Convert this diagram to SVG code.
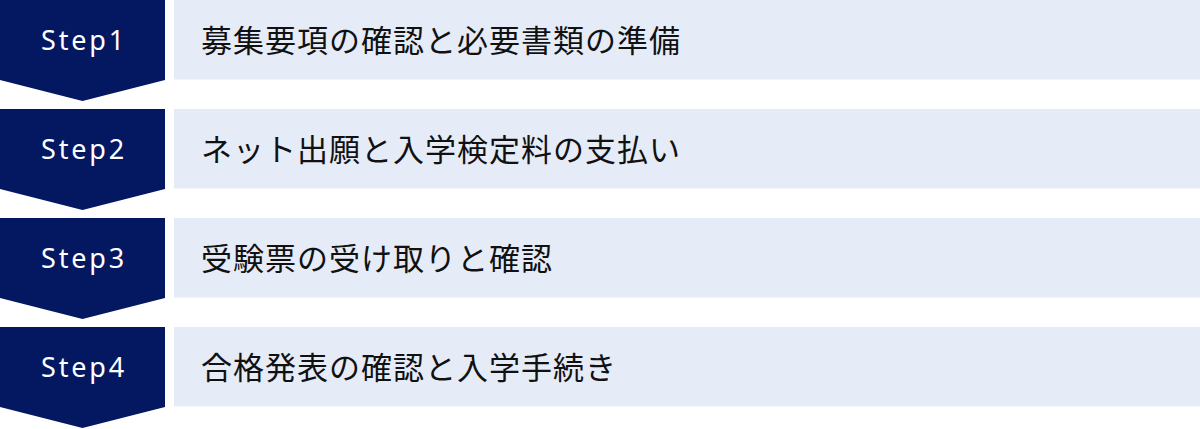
<svg xmlns="http://www.w3.org/2000/svg" width="1200" height="429" viewBox="0 0 1200 429">
<style>
.step{fill:#041862}
.bar{fill:#E6EBF8}
.lbl{font-family:"Noto Sans","DejaVu Sans",sans-serif;font-size:27px;fill:#ffffff;letter-spacing:2.8px;text-anchor:middle}
.txt{font-family:"Noto Sans CJK JP","Noto Sans",sans-serif;font-size:31px;fill:#111111;letter-spacing:1px}
</style>
<defs>
<path id="chev" d="M0,0 H165 V80 L82.5,101 L0,80 Z"/>
</defs>
<g id="connectors"></g>
<g id="step1">
<use href="#chev" class="step"/>
<rect class="bar" x="174" y="0" width="1026" height="79.5"/>
<text class="lbl" x="84" y="50">Step1</text>
<text class="txt" x="201" y="52">募集要項の確認と必要書類の準備</text>
</g>
<g id="step2" transform="translate(0,109)">
<use href="#chev" class="step"/>
<rect class="bar" x="174" y="0" width="1026" height="79.5"/>
<text class="lbl" x="84" y="50">Step2</text>
<text class="txt" x="201" y="52">ネット出願と入学検定料の支払い</text>
</g>
<g id="step3" transform="translate(0,218)">
<use href="#chev" class="step"/>
<rect class="bar" x="174" y="0" width="1026" height="79.5"/>
<text class="lbl" x="84" y="50">Step3</text>
<text class="txt" x="201" y="52">受験票の受け取りと確認</text>
</g>
<g id="step4" transform="translate(0,327)">
<use href="#chev" class="step"/>
<rect class="bar" x="174" y="0" width="1026" height="79.5"/>
<text class="lbl" x="84" y="50">Step4</text>
<text class="txt" x="201" y="52">合格発表の確認と入学手続き</text>
</g>
</svg>
